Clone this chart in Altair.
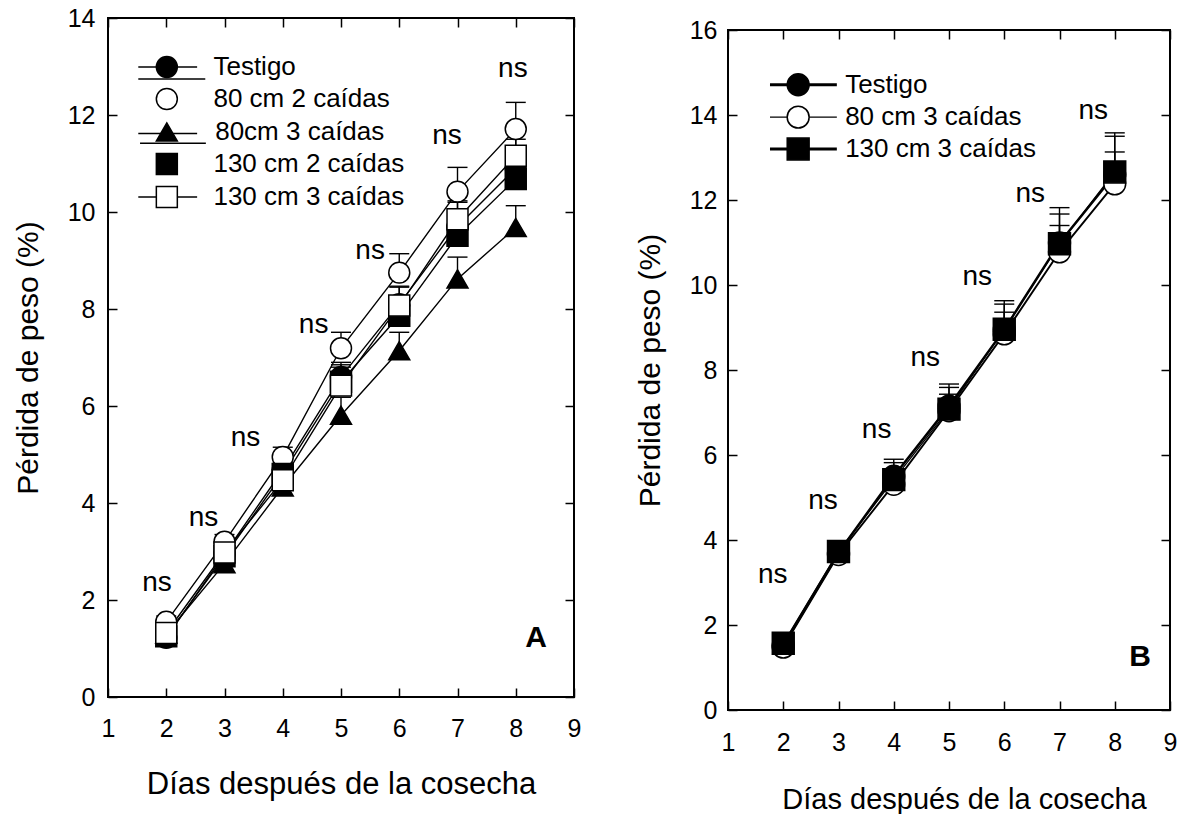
import altair as alt
import pandas as pd

FONT = "Liberation Sans"

days = [2, 3, 4, 5, 6, 7, 8]

# ---- Panel A: weight loss (%) by treatment ----
a_names = ["Testigo", "80 cm 2 caídas", "80cm 3 caídas", "130 cm 2 caídas", "130 cm 3 caídas"]
a_testigo = [1.22, 2.95, 4.68, 6.60, 8.10, 9.70, 10.90]
a_80_2 = [1.55, 3.20, 4.95, 7.19, 8.75, 10.42, 11.71]
a_80_3 = [1.30, 2.75, 4.33, 5.81, 7.14, 8.62, 9.68]
a_130_2 = [1.25, 2.90, 4.60, 6.50, 7.86, 9.51, 10.68]
a_130_3 = [1.32, 2.98, 4.47, 6.42, 8.07, 9.85, 11.16]
# standard errors (upper bars)
a_err_testigo = [0.10, 0.12, 0.15, 0.30, 0.35, 0.50, 0.60]
a_err_80_2 = [0.12, 0.15, 0.20, 0.33, 0.39, 0.50, 0.55]
a_err_80_3 = [0.10, 0.12, 0.20, 0.37, 0.38, 0.45, 0.45]
a_err_130_2 = [0.10, 0.10, 0.18, 0.35, 0.30, 0.40, 0.50]
a_err_130_3 = [0.10, 0.15, 0.20, 0.38, 0.40, 0.38, 0.50]

# ---- Panel B ----
b_names = ["Testigo", "80 cm 3 caídas", "130 cm 3 caídas"]
b_testigo = [1.52, 3.70, 5.50, 7.15, 8.95, 10.99, 12.60]
b_80_3 = [1.48, 3.66, 5.31, 7.04, 8.85, 10.78, 12.38]
b_130_3 = [1.57, 3.73, 5.42, 7.08, 8.96, 10.97, 12.66]
b_err_testigo = [0.10, 0.15, 0.40, 0.52, 0.68, 0.83, 0.98]
b_err_80_3 = [0.10, 0.12, 0.35, 0.39, 0.51, 0.62, 0.75]
b_err_130_3 = [0.10, 0.15, 0.40, 0.51, 0.59, 0.70, 0.84]

# "ns" annotations (day, %)
a_ns_x = [1.84, 2.64, 3.36, 4.53, 5.50, 6.82, 7.95]
a_ns_y = [2.35, 3.69, 5.35, 7.66, 9.20, 11.57, 12.95]
b_ns_x = [1.81, 2.72, 3.69, 4.57, 5.51, 6.47, 7.61]
b_ns_y = [3.18, 4.91, 6.60, 8.29, 10.20, 12.13, 14.09]

# legend rows, in data units of each panel
a_leg_y = [12.99, 12.33, 11.65, 10.99, 10.31]
a_leg_text_x = [2.81, 2.81, 2.84, 2.81, 2.81]
a_leg_sym_x = 2.01
a_leg_rule_x1 = [1.52, 1.52, 1.52, 1.55, 1.52]
a_leg_rule_x2 = [2.53, 2.67, 2.53, 2.68, 2.53]
a_leg_rule_y = [12.99, 12.74, 11.62, 11.42, 10.31]

b_leg_y = [14.71, 13.95, 13.20]
b_leg_text_x = 3.12
b_leg_sym_x = 2.27
b_leg_rule_x1 = 1.76
b_leg_rule_x2 = 2.97
b_leg_rule_w = [3.0, 1.3, 3.0]


def long_table(names, series, errors):
    rows = []
    for name, vals, errs in zip(names, series, errors):
        for d, v, e in zip(days, vals, errs):
            rows.append({"day": d, "value": v, "top": round(v + e, 3), "serie": name})
    return pd.DataFrame(rows)


def make_panel(df, names, shapes, fills, sizes, widths, ymax, w, h,
               ns_x, ns_y, leg_pts, leg_rules, leg_txt, letter, letter_xy,
               ytitle_x, xtitle_x, xtitle_y, xtitle_size, xlab_pad, ylab_pad):
    xs = alt.Scale(domain=[1, 9], nice=False, zero=False)
    ys = alt.Scale(domain=[0, ymax], nice=False, zero=True)

    def X(f):
        return alt.X(f, type="quantitative", scale=xs, axis=None, title=None)

    def Y(f):
        return alt.Y(f, type="quantitative", scale=ys, axis=None, title=None)

    sh = alt.Shape("serie:N", scale=alt.Scale(domain=names, range=shapes), legend=None)
    fl = alt.Fill("serie:N", scale=alt.Scale(domain=names, range=fills), legend=None)
    sz = alt.Size("serie:N", scale=alt.Scale(domain=names, range=sizes), legend=None)
    sw = alt.StrokeWidth("serie:N", scale=alt.Scale(domain=names, range=widths), legend=None)

    base = alt.Chart(df)
    lines = base.mark_line(color="black").encode(x=X("day"), y=Y("value"), detail="serie:N", strokeWidth=sw)
    bars = base.mark_rule(color="black", strokeWidth=1.4).encode(x=X("day"), y=Y("value"), y2="top")
    caps = base.mark_rule(color="black", strokeWidth=1.4, xOffset=-10, x2Offset=10).encode(
        x=X("day"), x2="day", y=Y("top"))
    pts = base.mark_point(filled=True, opacity=1, stroke="black", strokeWidth=1.5).encode(
        x=X("day"), y=Y("value"), shape=sh, fill=fl, size=sz)

    lrules = alt.Chart(leg_rules).mark_rule(color="black").encode(
        x=X("x1"), x2="x2", y=Y("y"), strokeWidth=alt.StrokeWidth("w:Q", scale=None))
    lpts = alt.Chart(leg_pts).mark_point(filled=True, opacity=1, stroke="black", strokeWidth=1.5).encode(
        x=X("x"), y=Y("y"), shape=sh, fill=fl, size=sz)
    ltxt = alt.Chart(leg_txt).mark_text(font=FONT, fontSize=26, align="left", baseline="middle",
                                        color="black").encode(x=X("x"), y=Y("y"), text="label:N")

    ns_df = pd.DataFrame({"x": ns_x, "y": ns_y, "t": ["ns"] * len(ns_x)})
    ns = alt.Chart(ns_df).mark_text(font=FONT, fontSize=28, align="center", baseline="middle",
                                    color="black").encode(x=X("x"), y=Y("y"), text="t:N")

    let_df = pd.DataFrame({"x": [letter_xy[0]], "y": [letter_xy[1]], "t": [letter]})
    let = alt.Chart(let_df).mark_text(font=FONT, fontSize=30, fontWeight="bold", align="center",
                                      baseline="middle", color="black").encode(x=X("x"), y=Y("y"), text="t:N")

    common = dict(domain=False, grid=False, ticks=True, tickSize=9, tickWidth=1.5, tickColor="black",
                  offset=-9, labelFont=FONT, labelFontSize=25, labelColor="black",
                  labelOverlap=False, labelFlush=False, labelBound=False,
                  titleFont=FONT, titleColor="black", titleFontWeight="normal")
    xvals = list(range(1, 10))
    yvals = list(range(0, ymax + 1, 2))
    ax_df = pd.DataFrame({"day": [1, 9], "value": [0, ymax]})
    axes1 = alt.Chart(ax_df).mark_point(opacity=0).encode(
        x=alt.X("day:Q", scale=xs, axis=alt.Axis(
            orient="bottom", values=xvals, labelPadding=xlab_pad,
            title="Días después de la cosecha", titleFontSize=xtitle_size,
            titleX=xtitle_x, titleY=xtitle_y, **common)),
        y=alt.Y("value:Q", scale=ys, axis=alt.Axis(
            orient="left", values=yvals, labelPadding=ylab_pad,
            title="Pérdida de peso (%)", titleFontSize=30,
            titleX=ytitle_x, titleY=h / 2, **common)),
    )
    axes2 = alt.Chart(ax_df).mark_point(opacity=0).encode(
        x=alt.X("day:Q", scale=xs, title=None, axis=alt.Axis(orient="top", values=xvals, labels=False, **common)),
        y=alt.Y("value:Q", scale=ys, title=None, axis=alt.Axis(orient="right", values=yvals, labels=False, **common)),
    )
    frame = alt.Chart(ax_df).mark_rect(fillOpacity=0, stroke="black", strokeWidth=2).encode(
        x=alt.XDatum(1, scale=xs, axis=None), x2=alt.X2Datum(9),
        y=alt.YDatum(0, scale=ys, axis=None), y2=alt.Y2Datum(ymax))

    return alt.layer(lines, bars, caps, pts, lrules, lpts, ltxt, ns, let, axes1, axes2, frame).resolve_axis(
        x="independent", y="independent").properties(width=w, height=h)


# ---- Panel A ----
df_a = long_table(a_names, [a_testigo, a_80_2, a_80_3, a_130_2, a_130_3],
                  [a_err_testigo, a_err_80_2, a_err_80_3, a_err_130_2, a_err_130_3])
a_leg_pts = pd.DataFrame({"x": [a_leg_sym_x] * 5, "y": a_leg_y, "serie": a_names})
a_leg_rules = pd.DataFrame({"x1": a_leg_rule_x1, "x2": a_leg_rule_x2, "y": a_leg_rule_y, "w": [1.5] * 5})
a_leg_txt = pd.DataFrame({"x": a_leg_text_x, "y": a_leg_y, "label": a_names})

panel_a = make_panel(
    df_a, a_names,
    ["circle", "circle", "triangle-up", "square", "square"],
    ["black", "white", "black", "black", "white"],
    [440, 440, 480, 380, 380],
    [1.4, 1.4, 1.4, 1.4, 1.4],
    14, 466, 679, a_ns_x, a_ns_y, a_leg_pts, a_leg_rules, a_leg_txt, "A", (8.35, 1.22),
    ytitle_x=-74, xtitle_x=233, xtitle_y=81, xtitle_size=31, xlab_pad=19, ylab_pad=13)

# ---- Panel B ----
df_b = long_table(b_names, [b_testigo, b_80_3, b_130_3], [b_err_testigo, b_err_80_3, b_err_130_3])
b_leg_pts = pd.DataFrame({"x": [b_leg_sym_x] * 3, "y": b_leg_y, "serie": b_names})
b_leg_rules = pd.DataFrame({"x1": [b_leg_rule_x1] * 3, "x2": [b_leg_rule_x2] * 3, "y": b_leg_y, "w": b_leg_rule_w})
b_leg_txt = pd.DataFrame({"x": [b_leg_text_x] * 3, "y": b_leg_y, "label": b_names})

panel_b = make_panel(
    df_b, b_names,
    ["circle", "circle", "square"],
    ["black", "white", "black"],
    [480, 480, 400],
    [2.5, 1.3, 2.5],
    16, 442, 680, b_ns_x, b_ns_y, b_leg_pts, b_leg_rules, b_leg_txt, "B", (8.46, 1.24),
    ytitle_x=-72, xtitle_x=236, xtitle_y=84, xtitle_size=29, xlab_pad=20, ylab_pad=11)

# small empty strip that drops panel B slightly lower than panel A
spacer = alt.Chart(pd.DataFrame({"a": [0]})).mark_point(opacity=0).encode(
    x=alt.X("a:Q", axis=None), y=alt.Y("a:Q", axis=None)).properties(width=442, height=1)

col_b = alt.vconcat(spacer, panel_b, spacing=11, bounds="flush")

chart = alt.hconcat(panel_a, col_b, spacing=154, bounds="flush").resolve_scale(
    shape="independent", fill="independent", size="independent", strokeWidth="independent"
).properties(
    padding={"left": 13, "top": 6, "right": 0, "bottom": 0},
    background="white",
).configure_view(stroke=None)

chart.save("out.html", embed_options={"renderer": "svg", "actions": False})
